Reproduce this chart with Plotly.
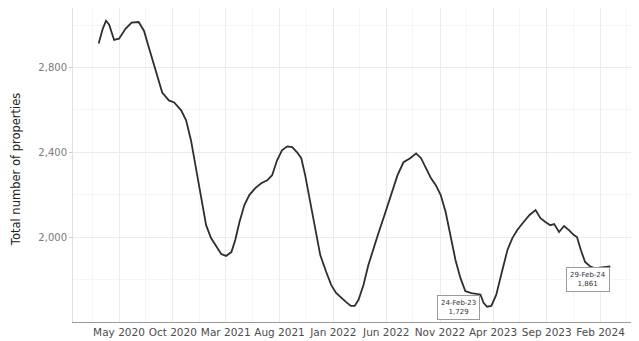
import plotly.graph_objects as go

dates = [
    "2020-03-04", "2020-03-16", "2020-03-25", "2020-04-03", "2020-04-17", "2020-05-01",
    "2020-05-20", "2020-06-06", "2020-06-26", "2020-07-11", "2020-07-25", "2020-08-08",
    "2020-08-23", "2020-09-01", "2020-09-20", "2020-10-05", "2020-10-25", "2020-11-08",
    "2020-11-22", "2020-12-07", "2020-12-21", "2021-01-04", "2021-01-18", "2021-02-01",
    "2021-02-16", "2021-03-02", "2021-03-17", "2021-03-28", "2021-04-09", "2021-04-23",
    "2021-05-07", "2021-05-24", "2021-06-10", "2021-06-27", "2021-07-11", "2021-07-25",
    "2021-08-08", "2021-08-23", "2021-09-06", "2021-09-20", "2021-10-02", "2021-10-13",
    "2021-10-27", "2021-11-10", "2021-11-25", "2021-12-12", "2021-12-26", "2022-01-09",
    "2022-01-23", "2022-02-06", "2022-02-20", "2022-03-03", "2022-03-14", "2022-03-28",
    "2022-04-11", "2022-04-26", "2022-05-10", "2022-05-27", "2022-06-16", "2022-07-03",
    "2022-07-20", "2022-08-08", "2022-08-25", "2022-09-08", "2022-09-22", "2022-10-06",
    "2022-10-20", "2022-11-03", "2022-11-17", "2022-12-01", "2022-12-15", "2022-12-29",
    "2023-01-12", "2023-01-29", "2023-02-10", "2023-02-24", "2023-03-05", "2023-03-15",
    "2023-03-27", "2023-04-10", "2023-04-24", "2023-05-12", "2023-05-26", "2023-06-09",
    "2023-06-27", "2023-07-14", "2023-07-31", "2023-08-14", "2023-08-28", "2023-09-11",
    "2023-09-22", "2023-10-06", "2023-10-20", "2023-11-03", "2023-11-17", "2023-11-26",
    "2023-12-07", "2023-12-19", "2024-01-02", "2024-01-16", "2024-01-30", "2024-02-13",
    "2024-02-29",
]
properties = [
    2913, 2984, 3021, 3002, 2930, 2936,
    2984, 3012, 3015, 2974, 2894, 2819,
    2739, 2682, 2645, 2635, 2598, 2551,
    2456, 2315, 2174, 2056, 1995, 1958,
    1920, 1911, 1929, 1986, 2071, 2151,
    2198, 2231, 2254, 2268, 2292, 2362,
    2409, 2428, 2424, 2400, 2372, 2292,
    2174, 2042, 1915, 1835, 1774, 1736,
    1713, 1694, 1675, 1675, 1704, 1774,
    1868, 1953, 2020, 2104, 2207, 2292,
    2353, 2372, 2395, 2372, 2325, 2278,
    2245, 2198, 2118, 2009, 1892, 1807,
    1745, 1735, 1731, 1729, 1690, 1671,
    1675, 1727, 1821, 1939, 1995, 2033,
    2071, 2104, 2127, 2089, 2071, 2056,
    2061, 2024, 2052, 2033, 2009, 2000,
    1939, 1882, 1862, 1852, 1856, 1859,
    1861,
]

x_tick_vals = ["2020-05-01", "2020-10-01", "2021-03-01", "2021-08-01", "2022-01-01",
               "2022-06-01", "2022-11-01", "2023-04-01", "2023-09-01", "2024-02-01"]
x_tick_text = ["May 2020", "Oct 2020", "Mar 2021", "Aug 2021", "Jan 2022",
               "Jun 2022", "Nov 2022", "Apr 2023", "Sep 2023", "Feb 2024"]
x_minor_vals = ["2020-02-15", "2020-07-16", "2020-12-16", "2021-05-16", "2021-10-16",
                "2022-03-16", "2022-08-16", "2023-01-16", "2023-06-16", "2023-11-16",
                "2024-04-16"]
y_tick_vals = [2000, 2400, 2800]
y_tick_text = ["2,000", "2,400", "2,800"]
y_minor_vals = [1800, 2200, 2600, 3000]

label_dates = ["2023-02-24", "2024-02-29"]
label_values = [1729, 1861]
label_texts = ["24-Feb-23", "29-Feb-24"]

FONT = "DejaVu Sans, Liberation Sans, Arial, sans-serif"

fig = go.Figure()
fig.add_trace(go.Scatter(
    x=dates, y=properties, mode="lines",
    line=dict(color="#2e2e2e", width=1.8),
    hoverinfo="skip", showlegend=False,
))

for d, v, t in zip(label_dates, label_values, label_texts):
    fig.add_annotation(
        x=d, y=v, xref="x", yref="y",
        text=f"{t}<br>{v:,}", showarrow=False,
        xanchor="right", yanchor="top", yshift=-1,
        font=dict(family=FONT, size=7, color="#333333"),
        bgcolor="white", bordercolor="#9a9a9a", borderwidth=1, borderpad=3,
        align="center",
    )

# y-axis title placed explicitly
fig.add_annotation(
    text="Total number of properties", xref="paper", yref="paper",
    x=-0.101, y=0.484, xanchor="center", yanchor="middle",
    textangle=-90, showarrow=False,
    font=dict(family=FONT, size=11.5, color="#222222"),
)

fig.update_layout(
    width=631, height=333,
    margin=dict(l=65, r=3, t=0, b=19),
    paper_bgcolor="white", plot_bgcolor="white",
    font=dict(family=FONT, color="#4d4d4d"),
    showlegend=False,
)
fig.update_xaxes(
    range=["2019-12-22", "2024-05-12"],
    tickmode="array", tickvals=x_tick_vals, ticktext=x_tick_text,
    tickfont=dict(family=FONT, size=10.5, color="#4d4d4d"), tickangle=0,
    showgrid=True, gridcolor="#ebebeb", gridwidth=1,
    minor=dict(tickmode="array", tickvals=x_minor_vals, showgrid=True,
               gridcolor="#f5f5f5", gridwidth=1),
    showline=True, linecolor="#9a9a9a", linewidth=1,
    ticks="", zeroline=False, automargin=False,
)
fig.update_yaxes(
    range=[1599, 3081],
    tickmode="array", tickvals=y_tick_vals, ticktext=y_tick_text,
    tickfont=dict(family=FONT, size=10, color="#7a7a7a"),
    ticks="outside", ticklen=3, tickcolor="#cccccc",
    showgrid=True, gridcolor="#ebebeb", gridwidth=1,
    minor=dict(tickmode="array", tickvals=y_minor_vals, showgrid=True,
               gridcolor="#f5f5f5", gridwidth=1),
    showline=True, linecolor="#e0e0e0", linewidth=1,
    zeroline=False, automargin=False,
)

fig.write_html("out.html")
